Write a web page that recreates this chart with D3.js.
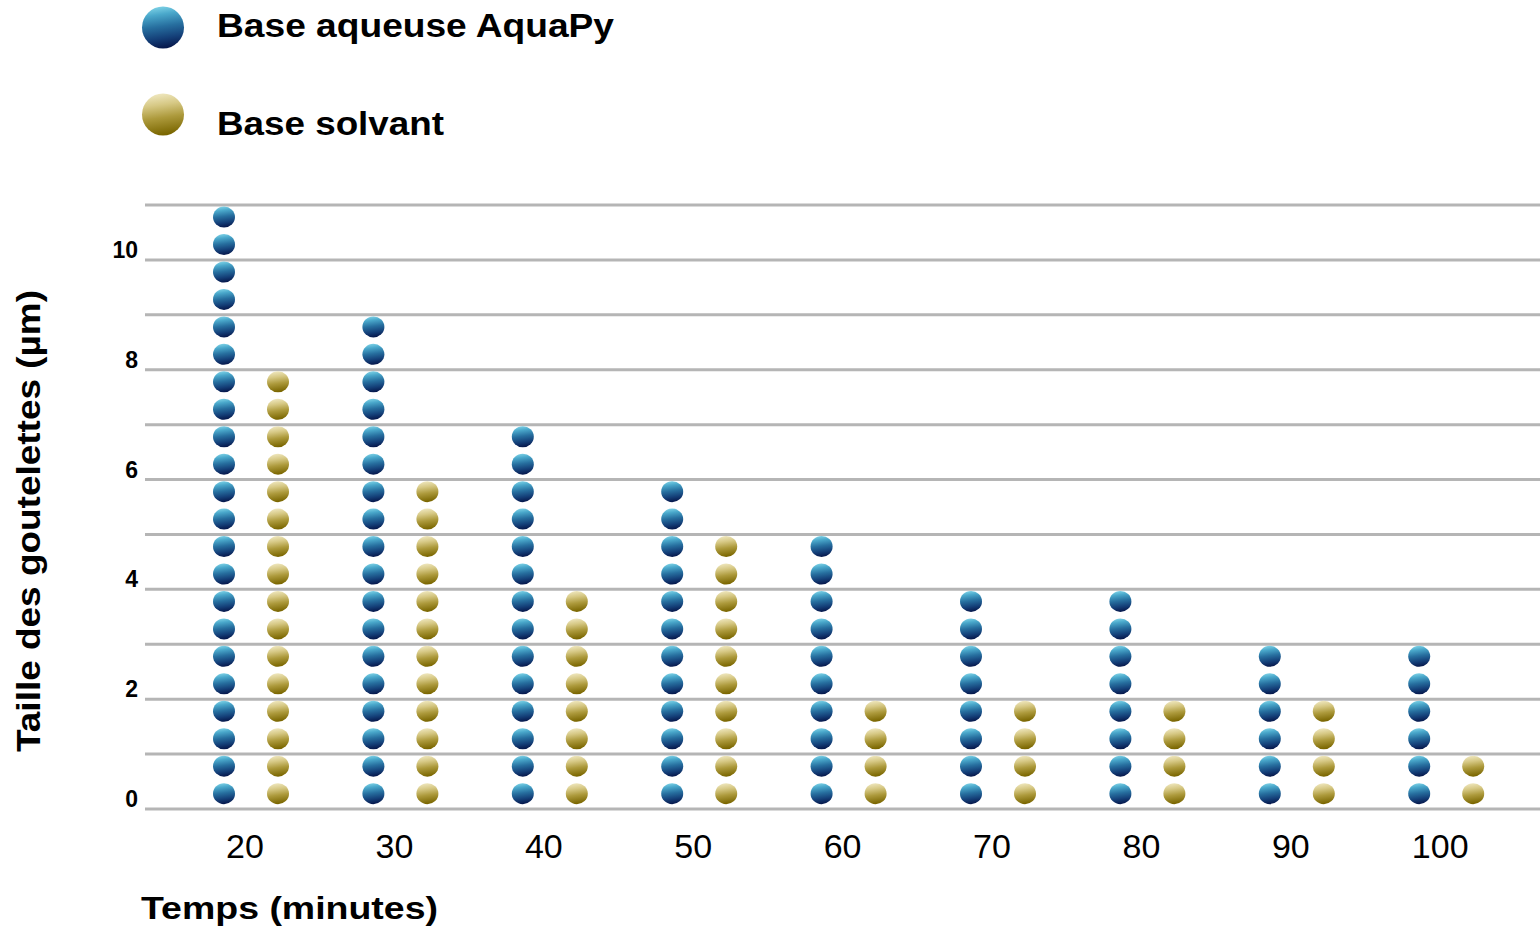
<!DOCTYPE html>
<html>
<head>
<meta charset="utf-8">
<script src="https://cdn.jsdelivr.net/npm/d3@7/dist/d3.min.js"></script>
<style>
html,body{margin:0;padding:0;background:#fff;}
svg{display:block;font-family:"Liberation Sans",Arial,sans-serif;}
</style>
</head>
<body>
<svg id="chart" width="1540" height="931"></svg>
<script>
// ---- data ----
const categories = ["20","30","40","50","60","70","80","90","100"];
const seriesNames = ["Base aqueuse AquaPy","Base solvant"];
const aquaValues = [11, 9, 7, 6, 5, 4, 4, 3, 3];
const solvantValues = [8, 6, 4, 5, 2, 2, 2, 2, 1];
const yTicks = [0, 2, 4, 6, 8, 10];
const gridValues = [0,1,2,3,4,5,6,7,8,9,10,11];
const unitPerDot = 0.5;
const xTitle = "Temps (minutes)";
const yTitle = "Taille des goutelettes (µm)";

const svg = d3.select("#chart");
const defs = svg.append("defs");

function grad(id, stops){
  const g = defs.append("linearGradient").attr("id", id)
    .attr("x1","0.2").attr("y1","0").attr("x2","0.35").attr("y2","1");
  stops.forEach(s => g.append("stop").attr("offset", s[0]).attr("stop-color", s[1]));
}
grad("gBlue", [[0,"#86d8ea"],[0.22,"#4aa8cb"],[0.5,"#276f9f"],[0.78,"#143f78"],[1,"#071a4e"]]);
grad("gGold", [[0,"#f2ebc6"],[0.3,"#d6c884"],[0.6,"#ad9a3c"],[1,"#7a6600"]]);
const fills = ["url(#gBlue)","url(#gGold)"];

// ---- scales ----
const x = d3.scaleBand().domain(categories).range([176.3, 1520.9]).padding(0);
const xs = d3.scalePoint().domain([0,1]).range([-27, 27]);
const y = d3.scaleLinear().domain([0, 11]).range([809, 205]);

// ---- gridlines ----
svg.append("g").selectAll("line").data(gridValues).join("line")
  .attr("x1", 145).attr("x2", 1540)
  .attr("y1", d => y(d)).attr("y2", d => y(d))
  .attr("stroke", "#b5b5b5").attr("stroke-width", 3);

// ---- y tick labels ----
svg.append("g").selectAll("text").data(yTicks).join("text")
  .attr("x", 138).attr("y", d => y(d) - 2)
  .attr("text-anchor", "end")
  .attr("font-size", 23).attr("font-weight", "bold").attr("fill", "#000")
  .text(d => d);

// ---- x tick labels ----
svg.append("g").selectAll("text").data(categories).join("text")
  .attr("x", d => x(d) + x.bandwidth()/2 - 6).attr("y", 858)
  .attr("text-anchor", "middle")
  .attr("font-size", 34).attr("fill", "#000")
  .text(d => d);

// ---- dots ----
const series = [aquaValues, solvantValues];
const dots = [];
series.forEach((vals, si) => {
  vals.forEach((v, ci) => {
    const n = Math.round(v / unitPerDot);
    for (let i = 0; i < n; i++) {
      dots.push({cat: categories[ci], s: si, v: (i + 0.5) * unitPerDot + 0.03});
    }
  });
});
svg.append("g").selectAll("ellipse").data(dots).join("ellipse")
  .attr("cx", d => x(d.cat) + x.bandwidth()/2 + xs(d.s))
  .attr("cy", d => y(d.v))
  .attr("rx", 11).attr("ry", 10.5)
  .attr("fill", d => fills[d.s]);

// ---- legend ----
const legendY = [27.5, 114.5];
const legendBase = [37, 135];
const legendLen = [397, 227];
const lg = svg.append("g");
seriesNames.forEach((name, i) => {
  lg.append("circle").attr("cx", 163).attr("cy", legendY[i]).attr("r", 21).attr("fill", fills[i]);
  lg.append("text").attr("x", 217).attr("y", legendBase[i])
    .attr("font-size", 33).attr("font-weight", "bold").attr("fill", "#000")
    .attr("textLength", legendLen[i]).attr("lengthAdjust", "spacingAndGlyphs")
    .text(name);
});

// ---- axis titles ----
svg.append("text").attr("x", 141).attr("y", 919)
  .attr("font-size", 32).attr("font-weight", "bold").attr("fill", "#000")
  .attr("textLength", 297).attr("lengthAdjust", "spacingAndGlyphs")
  .text(xTitle);

svg.append("text").attr("transform", "translate(40,521) rotate(-90)")
  .attr("text-anchor", "middle")
  .attr("font-size", 33).attr("font-weight", "bold").attr("fill", "#000")
  .attr("textLength", 462).attr("lengthAdjust", "spacingAndGlyphs")
  .text(yTitle);
</script>
</body>
</html>
